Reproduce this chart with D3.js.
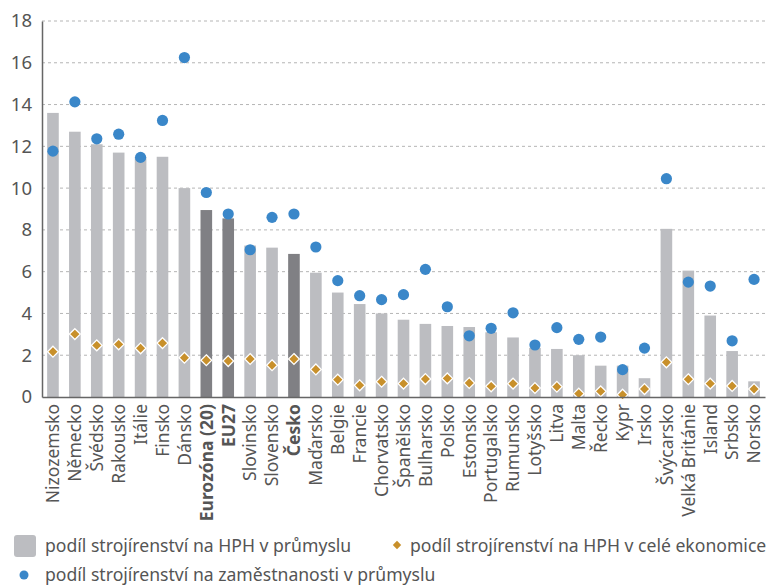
<!DOCTYPE html>
<html lang="cs">
<head>
<meta charset="UTF-8" />
<script src="https://d3js.org/d3.v7.min.js"></script>
<style>
  body { margin: 0; background: #fff; font-family: "Noto Sans", "Open Sans", sans-serif; }
  svg { display: block; }
  .tick text { fill: #555; }
  .legend text { fill: #555; font-size: 17.6px; }
</style>
</head>
<body>
<svg id="chart" width="782" height="587"></svg>
<script>
  const countries = ["Nizozemsko","Německo","Švédsko","Rakousko","Itálie","Finsko","Dánsko",
    "Eurozóna (20)","EU27","Slovinsko","Slovensko","Česko","Maďarsko","Belgie","Francie",
    "Chorvatsko","Španělsko","Bulharsko","Polsko","Estonsko","Portugalsko","Rumunsko",
    "Lotyšsko","Litva","Malta","Řecko","Kypr","Irsko","Švýcarsko","Velká Británie",
    "Island","Srbsko","Norsko"];
  const highlighted = ["Eurozóna (20)","EU27","Česko"];

  // podíl strojírenství na HPH v průmyslu (sloupce)
  const hphIndustry = [13.6,12.7,12.1,11.7,11.5,11.5,10.0,8.95,8.55,7.25,7.15,6.85,5.95,5.0,4.45,
    4.0,3.7,3.5,3.4,3.35,3.1,2.85,2.35,2.3,2.0,1.5,1.5,0.9,8.05,6.05,3.9,2.2,0.75];
  // podíl strojírenství na HPH v celé ekonomice (kosočtverce)
  const hphEconomy = [2.17,3.01,2.47,2.52,2.33,2.58,1.88,1.76,1.72,1.82,1.52,1.82,1.32,0.83,0.56,
    0.73,0.64,0.86,0.89,0.67,0.51,0.64,0.43,0.49,0.16,0.27,0.11,0.38,1.66,0.85,0.64,0.53,0.38];
  // podíl strojírenství na zaměstnanosti v průmyslu (body)
  const employment = [11.77,14.13,12.36,12.58,11.47,13.24,16.25,9.79,8.76,7.05,8.6,8.76,7.18,5.57,4.85,
    4.66,4.9,6.11,4.32,2.93,3.29,4.03,2.49,3.32,2.76,2.87,1.31,2.34,10.45,5.5,5.31,2.69,5.63];
  const yTicks = [0,2,4,6,8,10,12,14,16,18];

  const data = countries.map((c, i) => ({
    name: c, bar: hphIndustry[i], dia: hphEconomy[i], dot: employment[i]
  }));

  const margin = { top: 21, right: 17, bottom: 190, left: 42 };
  const width = 782 - margin.left - margin.right;
  const height = 587 - margin.top - margin.bottom;

  const svg = d3.select("#chart");
  const g = svg.append("g").attr("transform", `translate(${margin.left},${margin.top})`);

  const x = d3.scaleBand().domain(countries).range([0, width]).paddingInner(0.47).paddingOuter(0.235);
  const y = d3.scaleLinear().domain([0, 18]).range([height, 0]);

  // gridlines
  g.selectAll(".grid").data(yTicks.filter(d => d > 0)).enter().append("line")
    .attr("x1", 0).attr("x2", width)
    .attr("y1", d => y(d)).attr("y2", d => y(d))
    .attr("stroke", "#b5b5b5").attr("stroke-width", 1).attr("stroke-dasharray", "3,3");

  // bars
  g.selectAll(".bar").data(data).enter().append("rect")
    .attr("x", d => x(d.name)).attr("width", x.bandwidth())
    .attr("y", d => y(d.bar)).attr("height", d => height - y(d.bar))
    .attr("fill", d => highlighted.includes(d.name) ? "#808084" : "#bcbdc1");

  // diamonds
  g.selectAll(".dia").data(data).enter().append("path")
    .attr("d", d3.symbol().type(d3.symbolDiamond2).size(75))
    .attr("transform", d => `translate(${x(d.name) + x.bandwidth() / 2},${y(d.dia)})`)
    .attr("fill", "#c8902b").attr("stroke", "#fff").attr("stroke-width", 1.3);

  // dots
  g.selectAll(".dot").data(data).enter().append("circle")
    .attr("cx", d => x(d.name) + x.bandwidth() / 2).attr("cy", d => y(d.dot))
    .attr("r", 5.6).attr("fill", "#3a87c9");

  // axes
  const yAxis = g.append("g").call(d3.axisLeft(y).tickValues(yTicks).tickSize(0).tickPadding(10));
  yAxis.select(".domain").attr("stroke", "#666").attr("stroke-width", 1.5);
  yAxis.selectAll("text").attr("font-size", 18.5).attr("font-family", "Noto Sans");

  const xAxis = g.append("g").attr("transform", `translate(0,${height})`)
    .call(d3.axisBottom(x).tickSize(0).tickPadding(0));
  xAxis.select(".domain").attr("stroke", "#666").attr("stroke-width", 1.5);
  xAxis.selectAll("text")
    .attr("font-size", 17.5).attr("font-family", "Noto Sans")
    .attr("font-weight", d => highlighted.includes(d) ? "bold" : "normal")
    .attr("fill", d => highlighted.includes(d) ? "#444" : "#555")
    .attr("transform", "rotate(-90)")
    .attr("text-anchor", "end")
    .attr("x", -7).attr("y", 0).attr("dy", "0.36em");

  // legend
  const leg = svg.append("g").attr("class", "legend");
  leg.append("rect").attr("x", 14).attr("y", 535).attr("width", 22).attr("height", 22)
    .attr("rx", 3).attr("fill", "#bcbdc1");
  leg.append("text").attr("x", 45).attr("y", 552).text("podíl strojírenství na HPH v průmyslu");
  leg.append("path").attr("d", d3.symbol().type(d3.symbolDiamond2).size(45))
    .attr("transform", "translate(397,545)").attr("fill", "#c8902b");
  leg.append("text").attr("x", 410).attr("y", 552).text("podíl strojírenství na HPH v celé ekonomice");
  leg.append("circle").attr("cx", 24).attr("cy", 575).attr("r", 4.5).attr("fill", "#3a87c9");
  leg.append("text").attr("x", 45).attr("y", 581).text("podíl strojírenství na zaměstnanosti v průmyslu");
</script>
</body>
</html>
